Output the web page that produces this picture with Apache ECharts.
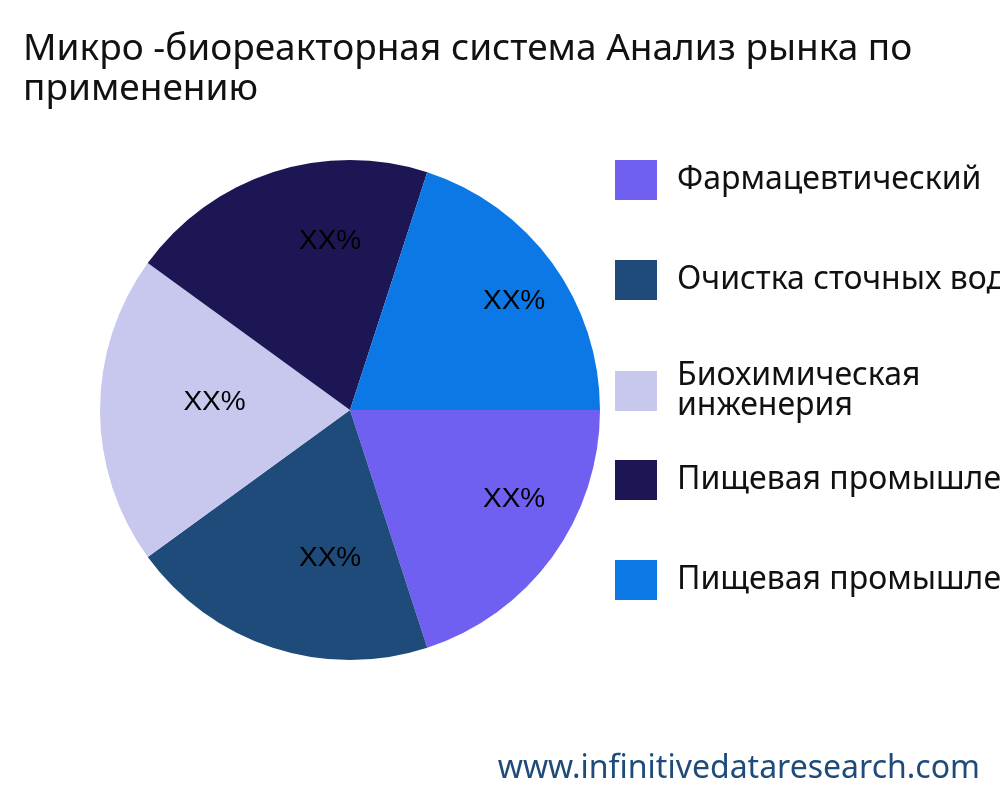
<!DOCTYPE html>
<html><head><meta charset="utf-8">
<script src="https://cdn.jsdelivr.net/npm/echarts@6/dist/echarts.min.js"></script>
<style>html,body{margin:0;padding:0;background:#fff}#c{width:1000px;height:800px}</style>
</head><body><div id="c"></div>
<script>
const categories = ["Фармацевтический","Очистка сточных вод","Биохимическая\nинженерия","Пищевая промышленность","Пищевая промышленность "];
const values = [20,20,20,20,20];
const labels = ["XX%","XX%","XX%","XX%","XX%"];
const colors = ["#7060F2","#1F4B7A","#C8C8EE","#1C1654","#0B78E6"];
const labelOffsets = [[10,-23],[39,-33],[55,-8],[39,12],[10,3]];

const chart = echarts.init(document.getElementById('c'));
const data = categories.map((n,i)=>({name:n,value:values[i],itemStyle:{color:colors[i]}}));
const legendTops = [155,255,355,455,555];
const legends = categories.map((n,i)=>({
  data:[n], left:610, top:legendTops[i], orient:'vertical', itemWidth:42, itemHeight:40,
  icon:'rect', selectedMode:false, itemGap:0,
  textStyle:{fontFamily:'Noto Sans',fontSize:32,color:'#111',lineHeight:30,padding:[0,0,0,15]}
}));
chart.setOption({
  animation:false,
  title:{text:"Микро -биореакторная система Анализ рынка по\nприменению",left:18,top:24,
    textStyle:{fontFamily:'Noto Sans',fontSize:37,fontWeight:'normal',color:'#111',lineHeight:40}},
  legend:legends,
  graphic:[{type:'text',right:20,top:753,style:{text:'www.infinitivedataresearch.com',fontFamily:'Noto Sans',fontSize:32,fill:'#1F4B7A'}}],
  series:[
    {type:'pie',center:[350,410],radius:[0,250],startAngle:0,clockwise:true,data:data,
     label:{show:false},labelLine:{show:false},emphasis:{disabled:true}},
    {type:'pie',center:[350,410],radius:[125,250],startAngle:0,clockwise:true,silent:true,
     data:data.map((d,i)=>({name:d.name,value:d.value,itemStyle:{color:'rgba(0,0,0,0)'},label:{formatter:labels[i],offset:labelOffsets[i]}})),
     label:{show:true,position:'inside',fontFamily:'Liberation Sans',fontSize:28,color:'#000'},
     labelLine:{show:false},emphasis:{disabled:true}}
  ]
});
</script></body></html>
